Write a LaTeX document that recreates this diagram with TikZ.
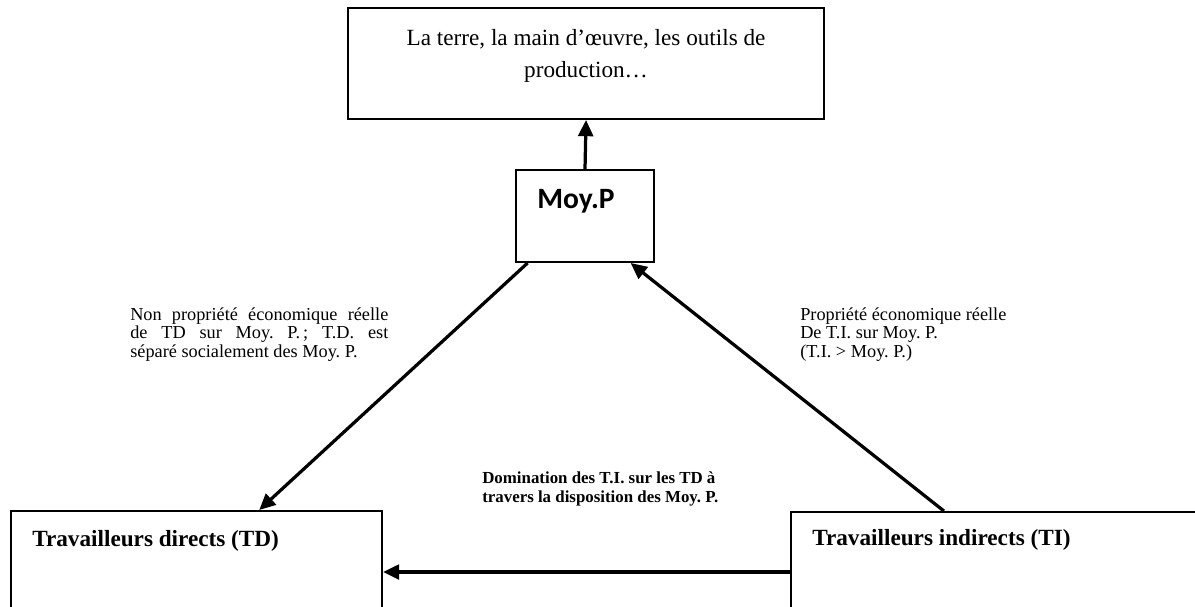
\documentclass[tikz,border=0pt]{standalone}
\usepackage{fontspec}
\setmainfont{Liberation Serif}
\newfontfamily\calibri{Carlito}
\usetikzlibrary{arrows.meta}
\usetikzlibrary{calc,positioning}
\frenchspacing

\begin{document}
\begin{tikzpicture}[x=0.025cm, y=-0.025cm, >={Triangle[length=11.5pt,width=10.5pt]},
  box/.style={draw, line width=1.4pt, inner sep=0pt, anchor=north west},
  fleche/.style={->, line width=2.3pt},
  petit/.style={font=\fontsize{13}{13.5}\selectfont, inner sep=0pt, anchor=north west},
  titre/.style={font=\bfseries\fontsize{16.5}{19}\selectfont, inner sep=0pt, anchor=north west}]
  \useasboundingbox (0,0) rectangle (1195,606);
  % les boites
  \node (outils) [box, minimum width=11.9cm, minimum height=2.775cm,
    label={[name=outilstxt, anchor=north, inner sep=0pt, yshift=-0.55cm, align=center,
      font=\fontsize{16.5}{22.8}\selectfont]north:La terre, la main d’œuvre, les outils de\\production…}] at (347,7) {};
  \node (moyp) [box, minimum width=3.45cm, minimum height=2.3cm,
    label={[name=moyptxt, anchor=north west, inner sep=0pt, xshift=0.55cm, yshift=-0.5cm,
      font=\calibri\bfseries\fontsize{21}{24}\selectfont]north west:Moy.P}] at (515,169) {};
  \node (td) [box, minimum width=9.275cm, minimum height=3.25cm,
    label={[name=tdtxt, titre, xshift=0.55cm, yshift=-0.5cm]north west:Travailleurs directs (TD)}] at (10,510) {};
  \node (ti) [box, minimum width=10.375cm, minimum height=3.225cm,
    label={[name=titxt, titre, xshift=0.55cm, yshift=-0.45cm]north west:Travailleurs indirects (TI)}] at (790,511) {};
  % les fleches
  \draw[fleche] (moyp.north) -- (outils.south);
  \draw[fleche] ($(moyp.south west)!0.09!(moyp.south east)$) -- ($(td.north west)!0.668!(td.north east)$);
  \draw[fleche] ($(ti.north west)!0.369!(ti.north east)$) -- ($(moyp.south west)!0.826!(moyp.south east)$);
  \coordinate (tiw) at ($(ti.north west)+(0,61)$);
  \draw[fleche] (tiw) -- (tiw -| td.east);
  % les textes
  \node (nonprop) [petit, text width=6.45cm, align=justify] at (130,307)
    {Non propriété économique réelle\linebreak de TD sur Moy. P.\,; T.D. est\linebreak séparé socialement des Moy. P.};
  \node (prop) [petit, align=left] at (800,307)
    {Propriété économique réelle\\De T.I. sur Moy. P.\\(T.I. > Moy. P.)};
  \node (domination) [petit, font=\bfseries\fontsize{12}{13.5}\selectfont, align=left] at (482,471)
    {Domination des T.I. sur les TD à\\travers la disposition des Moy. P.};
\end{tikzpicture}
\end{document}
